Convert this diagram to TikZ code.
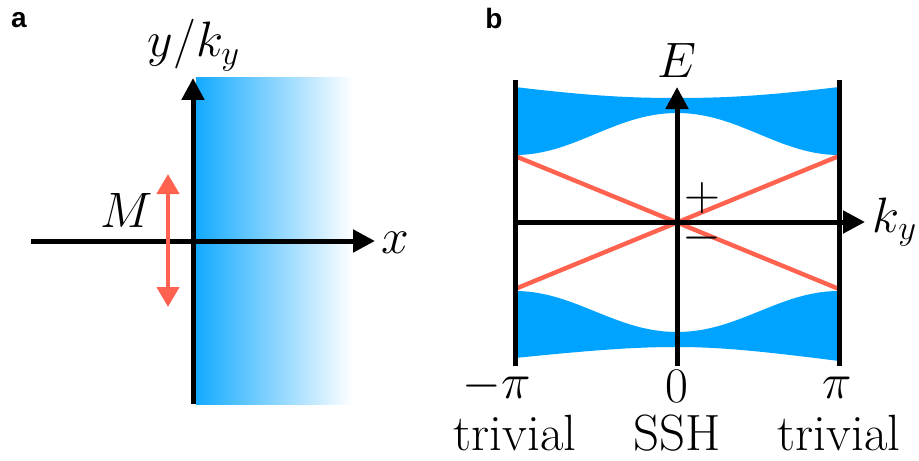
\documentclass[tikz,border=0pt]{standalone}
\usepackage{amsmath}
\usepackage{fontspec}
\newfontfamily\panelfont{Liberation Sans}
\usetikzlibrary{arrows.meta}
\definecolor{bandblue}{RGB}{0,163,255}
\definecolor{edgered}{RGB}{255,99,80}
\tikzset{
  axis/.style={line width=2.5pt,-{Triangle[width=11pt,length=11pt]}},
  bar/.style={line width=2.5pt},
  edge/.style={edgered,line width=2.2pt},
  panel/.style={anchor=base,inner sep=0pt,font=\panelfont\bfseries\fontsize{14}{16}\selectfont},
  lbl/.style={anchor=base,inner sep=0pt}
}
\begin{document}
\begin{tikzpicture}[x=.5pt,y=-.5pt,font=\fontsize{25.5}{30}\selectfont]
\useasboundingbox (0,0) rectangle (919,460);
\shade[left color=bandblue!92!white,right color=white] (196,78) rectangle (353,404);
\coordinate (ya0) at (193,404);
\coordinate (ya1) at (193,78);
\coordinate (xa0) at (31,241);
\coordinate (xa1) at (375,241);
\coordinate (m0) at (168,174);
\coordinate (m1) at (168,307);
\draw[axis] (ya0)--(ya1);
\draw[axis] (xa0)--(xa1);
\draw[edgered,line width=2.2pt,{Triangle[width=11pt,length=10pt]}-{Triangle[width=11pt,length=10pt]}] (m0)--(m1);
\node[panel] (pa) at (19,28) {a};
\node[lbl] (ylab) at (194,57) {$y/k_y$};
\node[lbl] (xlab) at (395,253) {$x$};
\node[lbl] (mlab) at (127,227) {$M$};
\fill[bandblue] (515,87) .. controls (590,96) and (630,98) .. (677,98) .. controls (724,98) and (764,96) .. (839,87)
  -- (839,155) .. controls (779,155) and (739,113) .. (677,113) .. controls (615,113) and (575,155) .. (515,155) -- cycle;
\fill[bandblue] (515,291) .. controls (575,291) and (615,332) .. (677,332) .. controls (739,332) and (779,291) .. (839,291)
  -- (839,361) .. controls (760,351) and (720,347) .. (677,347) .. controls (634,347) and (594,350) .. (515,358) -- cycle;
\coordinate (ul) at (515,156);
\coordinate (ll) at (515,289);
\coordinate (ur) at (839,156);
\coordinate (lr) at (839,289);
\draw[edge] (ul)--(lr);
\draw[edge] (ll)--(ur);
\coordinate (lb0) at (515,80);
\coordinate (lb1) at (515,366);
\coordinate (rb0) at (839,80);
\coordinate (rb1) at (839,366);
\coordinate (eb0) at (677,366);
\coordinate (eb1) at (677,87);
\coordinate (kb0) at (515,222);
\coordinate (kb1) at (865,222);
\draw[bar] (lb0)--(lb1) (rb0)--(rb1);
\draw[axis] (eb0)--(eb1);
\draw[axis] (kb0)--(kb1);
\node[panel] (pb) at (494,29) {b};
\node[lbl] (elab) at (677,78) {$E$};
\node[lbl] (klab) at (895,232) {$k_y$};
\node[inner sep=0pt,align=center,font=\fontsize{25}{20}\selectfont] (pm) at (702,219) {$+$\\$-$};
\node[lbl] (tl) at (497,398) {$-\pi$};
\node[lbl] (tm) at (677,402) {$0$};
\node[lbl] (tr) at (837,398) {$\pi$};
\node[lbl] (nl) at (515,450) {trivial};
\node[lbl] (nm) at (677,450) {SSH};
\node[lbl] (nr) at (839,450) {trivial};
\end{tikzpicture}
\end{document}
